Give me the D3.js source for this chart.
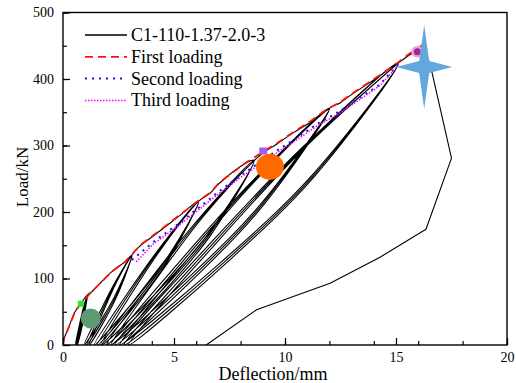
<!DOCTYPE html>
<html lang="en">
<head>
  <meta charset="UTF-8">
  <title>Load-deflection</title>
  <script src="https://d3js.org/d3.v7.min.js"></script>
  <style>
    html, body {
      margin: 0;
      padding: 0;
      background: #fff;
      overflow: hidden;
    }
    svg text {
      font-family: "Times New Roman", "Liberation Serif", serif;
      fill: #000;
    }
  </style>
</head>
<body>
  <svg id="chart" width="516" height="383"></svg>
  <script>
    // axis ticks
    const xTicks = [0, 5, 10, 15, 20];
    const yTicks = [0, 100, 200, 300, 400, 500];

    // legend entries
    const seriesNames = ['C1-110-1.37-2.0-3', 'First loading', 'Second loading', 'Third loading'];

    // red dashed envelope (first loading)
    const firstLoading = [
      [0, 0], [0.05, 10], [0.24, 25], [0.54, 50], [0.8, 62], [1.29, 80], [2.19, 110],
      [2.79, 125], [3.1, 136], [3.47, 150], [4.07, 165], [5.27, 196], [6.1, 217],
      [6.62, 229], [7.07, 245], [8.27, 275], [8.57, 281], [9.02, 291], [9.62, 303],
      [10.37, 320], [11.13, 336], [11.73, 351], [12.03, 357], [12.48, 365], [12.93, 376],
      [14.28, 406], [15.1, 425], [15.6, 438], [16.2, 451]
    ];
    // blue dotted envelope (second loading)
    const secondLoading = [
      [3.1, 128], [3.47, 138], [4.07, 155], [5.27, 184], [6.1, 206], [7.07, 232],
      [8.0, 255], [8.57, 268], [9.62, 292], [10.37, 308], [11.43, 332], [12.48, 352],
      [14.28, 392], [15.1, 422]
    ];
    // magenta dotted envelope (third loading)
    const thirdLoading = [
      [3.3, 125], [4.07, 152], [5.27, 181], [6.1, 203], [7.07, 229], [8.0, 252],
      [8.57, 265], [9.62, 289], [10.37, 305], [11.43, 329], [12.48, 349], [14.28, 390],
      [15.1, 421]
    ];

    // black test curve, three cycles at each load level
    const testCurve = [
      // level 1
      [0, 0], [0.05, 10], [0.24, 25], [0.54, 50], [0.8, 62], [1.1, 75],
      [0.93, 47], [0.75, 23], [0.55, 0], [0.72, 27], [0.91, 55], [1.1, 75],
      [0.95, 47], [0.79, 23], [0.6, 0], [0.76, 27], [0.93, 55], [1.1, 75],
      [0.97, 47], [0.83, 23], [0.65, 0], [0.79, 27], [0.94, 55], [1.1, 75],
      [1.29, 80], [2.19, 110], [2.79, 125], [3.1, 135],
      // level 2
      [2.44, 81], [1.76, 40], [0.95, 0], [1.62, 47], [2.36, 95], [3.1, 135],
      [2.49, 81], [1.84, 40], [1.07, 0], [1.7, 47], [2.39, 95], [3.1, 135],
      [2.53, 81], [1.92, 40], [1.18, 0], [1.77, 47], [2.42, 95], [3.1, 135],
      [3.47, 149], [4.07, 164], [5.27, 195], [6.1, 216],
      // level 3
      [4.67, 130], [3.17, 65], [1.4, 0], [2.87, 76], [4.47, 151], [6.1, 216],
      [4.73, 130], [3.28, 65], [1.55, 0], [2.96, 76], [4.51, 151], [6.1, 216],
      [4.79, 130], [3.38, 65], [1.7, 0], [3.06, 76], [4.56, 151], [6.1, 216],
      [6.62, 228], [7.07, 244], [8.27, 274], [8.6, 278],
      // level 4
      [6.51, 166], [4.33, 83], [1.75, 0], [3.89, 97], [6.22, 194], [8.6, 277],
      [6.59, 166], [4.47, 83], [1.95, 0], [4.02, 97], [6.28, 194], [8.6, 277],
      [6.67, 166], [4.61, 83], [2.15, 0], [4.15, 97], [6.34, 194], [8.6, 277],
      [9.02, 289], [9.62, 302], [10.37, 319], [11.13, 335], [11.73, 350], [12.0, 356],
      // level 5
      [8.96, 214], [5.83, 107], [2.15, 0], [5.24, 125], [8.6, 249], [12.0, 356],
      [9.04, 214], [5.97, 107], [2.35, 0], [5.37, 125], [8.66, 249], [12.0, 356],
      [9.12, 214], [6.11, 107], [2.55, 0], [5.5, 125], [8.72, 249], [12.0, 356],
      [12.48, 364], [12.93, 375], [14.28, 405], [15.1, 424],
      // level 6
      [11.18, 254], [7.2, 127], [2.55, 0], [6.5, 148], [10.78, 297], [15.1, 424],
      [11.26, 254], [7.34, 127], [2.75, 0], [6.63, 148], [10.84, 297], [15.1, 424],
      [11.34, 254], [7.48, 127], [2.95, 0], [6.76, 148], [10.9, 297], [15.1, 424]
    ];
    // black test curve, failure and final unloading
    const failureCurve = [
      [15.1, 424], [15.6, 436], [15.96, 442], [16.3, 447], [16.6, 413], [17.5, 281],
      [16.35, 174], [14.28, 132], [12.03, 93], [8.72, 53], [6.45, 0]
    ];

    // highlighted points
    const greenSquare = [0.8, 62];
    const greenCircle = [1.25, 40];
    const purpleSquare = [9.02, 291];
    const orangeCircle = [9.32, 268];
    const magentaCircle = [15.96, 441];
    const blueStar = [16.27, 418];

    const svg = d3.select('#chart');
    const plotLeft = 63, plotRight = 507, plotTop = 12.5, plotBottom = 345;

    const x = d3.scaleLinear().domain([0, 20]).range([plotLeft, plotRight]);
    const y = d3.scaleLinear().domain([0, 500]).range([plotBottom, plotTop]);

    const line = d3.line().x(d => x(d[0])).y(d => y(d[1]));
    const smoothLine = d3.line().x(d => x(d[0])).y(d => y(d[1]))
      .curve(d3.curveCatmullRom.alpha(0.5));

    svg.append('clipPath').attr('id', 'clip')
      .append('rect')
      .attr('x', plotLeft).attr('y', plotTop)
      .attr('width', plotRight - plotLeft).attr('height', plotBottom - plotTop);

    const plot = svg.append('g').attr('clip-path', 'url(#clip)');

    plot.append('path')
      .datum(testCurve)
      .attr('d', smoothLine)
      .attr('fill', 'none')
      .attr('stroke', '#000')
      .attr('stroke-width', 1.1)
      .attr('stroke-linejoin', 'round');

    plot.append('path')
      .datum(failureCurve)
      .attr('d', line)
      .attr('fill', 'none')
      .attr('stroke', '#000')
      .attr('stroke-width', 1.1)
      .attr('stroke-linejoin', 'round');

    plot.append('path')
      .datum(firstLoading)
      .attr('d', line)
      .attr('fill', 'none')
      .attr('stroke', '#ff1010')
      .attr('stroke-width', 1.8)
      .attr('stroke-dasharray', '8,5');

    plot.append('path')
      .datum(secondLoading)
      .attr('d', line)
      .attr('fill', 'none')
      .attr('stroke', '#1010ff')
      .attr('stroke-width', 2)
      .attr('stroke-dasharray', '2,5');

    plot.append('path')
      .datum(thirdLoading)
      .attr('d', line)
      .attr('fill', 'none')
      .attr('stroke', '#ff00ff')
      .attr('stroke-width', 1.5)
      .attr('stroke-dasharray', '1.5,1.5');

    // markers
    plot.append('rect')
      .attr('x', x(greenSquare[0]) - 3).attr('y', y(greenSquare[1]) - 3)
      .attr('width', 6).attr('height', 6)
      .attr('fill', '#22ee22');

    plot.append('circle')
      .attr('cx', x(greenCircle[0])).attr('cy', y(greenCircle[1]))
      .attr('r', 10)
      .attr('fill', '#5c9c72');

    plot.append('rect')
      .attr('x', x(purpleSquare[0]) - 4).attr('y', y(purpleSquare[1]) - 4)
      .attr('width', 8).attr('height', 7)
      .attr('fill', '#a35cf2');

    plot.append('ellipse')
      .attr('cx', x(orangeCircle[0])).attr('cy', y(orangeCircle[1]))
      .attr('rx', 14).attr('ry', 13)
      .attr('fill', '#ff6a00');

    plot.append('circle')
      .attr('cx', x(magentaCircle[0])).attr('cy', y(magentaCircle[1]))
      .attr('r', 6)
      .attr('fill', '#f0a0e0');
    plot.append('circle')
      .attr('cx', x(magentaCircle[0])).attr('cy', y(magentaCircle[1]))
      .attr('r', 3.5)
      .attr('fill', '#a02890');

    const sx = x(blueStar[0]), sy = y(blueStar[1]);
    const starPts = [[0, -42], [5, -6], [28, 0], [5, 6], [0, 42], [-5, 6], [-28, 0], [-5, -6]];
    plot.append('polygon')
      .attr('points', starPts.map(p => [sx + p[0], sy + p[1]].join(',')).join(' '))
      .attr('fill', '#62a8dc');

    // axes
    const xAxis = d3.axisBottom(x).tickValues(xTicks).tickSize(-7).tickPadding(7);
    const xMinor = d3.axisBottom(x).ticks(8).tickSize(-4).tickFormat('');
    const yAxis = d3.axisLeft(y).tickValues(yTicks).tickSize(-7).tickPadding(9);
    const yMinor = d3.axisLeft(y).ticks(10).tickSize(-4).tickFormat('');

    const styleAxis = g => {
      g.select('.domain').remove();
      g.selectAll('line').attr('stroke', '#000').attr('stroke-width', 1.2);
      g.selectAll('text').attr('font-size', 14).attr('fill', '#000')
        .style('font-family', '"Times New Roman", "Liberation Serif", serif');
    };

    svg.append('g').attr('transform', `translate(0,${plotBottom})`).call(xMinor).call(styleAxis);
    svg.append('g').attr('transform', `translate(0,${plotBottom})`).call(xAxis).call(styleAxis);
    svg.append('g').attr('transform', `translate(${plotLeft},0)`).call(yMinor).call(styleAxis);
    svg.append('g').attr('transform', `translate(${plotLeft},0)`).call(yAxis).call(styleAxis);

    svg.append('rect')
      .attr('x', plotLeft).attr('y', plotTop)
      .attr('width', plotRight - plotLeft).attr('height', plotBottom - plotTop)
      .attr('fill', 'none')
      .attr('stroke', '#000')
      .attr('stroke-width', 1.4);

    svg.append('text')
      .attr('x', (plotLeft + plotRight) / 2 - 12)
      .attr('y', 380)
      .attr('text-anchor', 'middle')
      .attr('font-size', 18)
      .text('Deflection/mm');

    svg.append('text')
      .attr('transform', 'translate(28,177) rotate(-90)')
      .attr('text-anchor', 'middle')
      .attr('font-size', 17)
      .text('Load/kN');

    // legend
    const legendStyles = [
      {stroke: '#000', width: 1.3, dash: null},
      {stroke: '#ff1010', width: 1.8, dash: '8,5'},
      {stroke: '#1010ff', width: 2, dash: '2,5'},
      {stroke: '#ff00ff', width: 1.5, dash: '1.5,1.5'}
    ];
    const legend = svg.append('g');
    const rows = legend.selectAll('g')
      .data(seriesNames)
      .enter()
      .append('g')
      .attr('transform', (d, i) => `translate(0,${35 + i * 21.8})`);
    rows.append('line')
      .attr('x1', 85).attr('x2', 127)
      .attr('stroke', (d, i) => legendStyles[i].stroke)
      .attr('stroke-width', (d, i) => legendStyles[i].width)
      .attr('stroke-dasharray', (d, i) => legendStyles[i].dash);
    rows.append('text')
      .attr('x', 131)
      .attr('y', 6)
      .attr('font-size', 18)
      .text(d => d);
  </script>
</body>
</html>
